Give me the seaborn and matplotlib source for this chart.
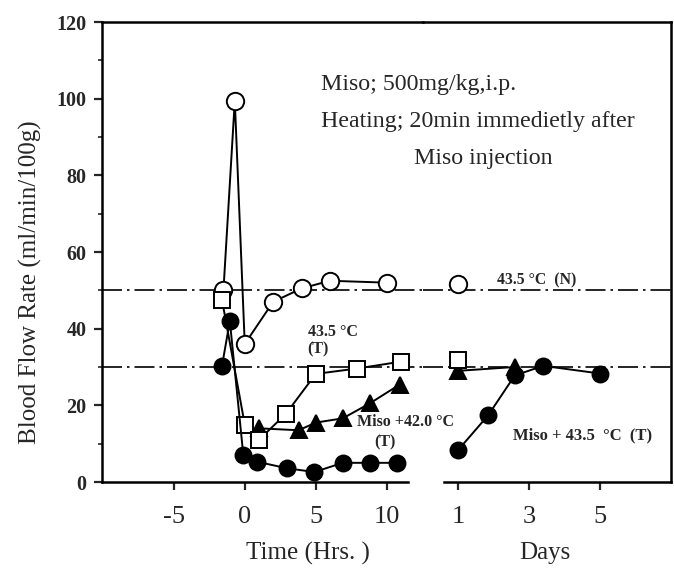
import matplotlib
matplotlib.use("Agg")
import matplotlib.pyplot as plt
from matplotlib.ticker import MultipleLocator
import seaborn as sns

# --- data ---
# 43.5 C (N), open circles
n_hrs = [-1.5, -0.7, 0.0, 2.0, 4.0, 6.0, 10.0]
n_val = [50.0, 99.5, 36.0, 47.0, 50.5, 52.5, 52.0]
n_days = [1.0]
n_days_val = [51.7]

# 43.5 C (T), open squares
t_hrs = [-1.6, 0.0, 1.0, 2.9, 5.0, 7.9, 11.0]
t_val = [47.5, 15.0, 11.0, 17.8, 28.2, 29.6, 31.4]
t_days = [1.0]
t_days_val = [31.8]

# Miso + 42.0 C (T), filled triangles
m42_hrs = [1.0, 3.8, 5.0, 6.9, 8.8, 10.9]
m42_val = [14.0, 13.5, 15.5, 16.6, 20.5, 25.4]
m42_days = [1.0, 2.6]
m42_days_val = [29.0, 30.0]

# Miso + 43.5 C (T), filled circles
m43_hrs = [-1.6, -1.05, -0.1, 0.85, 2.95, 4.9, 6.9, 8.8, 10.75]
m43_val = [30.3, 42.0, 7.0, 5.3, 3.6, 2.6, 5.0, 5.0, 5.0]
m43_days = [1.0, 1.85, 2.6, 3.4, 5.0]
m43_days_val = [8.3, 17.4, 27.8, 30.3, 28.3]

ref_lines = [50, 30]
hr_ticks = [-5, 0, 5, 10]
day_ticks = [1, 3, 5]
y_ticks = [0, 20, 40, 60, 80, 100, 120]

sns.set_style("ticks")
plt.rcParams['font.family'] = ['Liberation Serif', 'DejaVu Serif']

fig = plt.figure(figsize=(6.74, 5.75), dpi=100)
W, H = 674.0, 575.0
x0, xm, x1 = 102, 423, 671
ybot, ytop = 482, 22
ax1 = fig.add_axes([x0 / W, 1 - ybot / H, (xm - x0) / W, (ybot - ytop) / H])
ax2 = fig.add_axes([xm / W, 1 - ybot / H, (x1 - xm) / W, (ybot - ytop) / H])
ax2.patch.set_visible(False)

lw = 1.4
def series(ax, x, y, marker, ms, filled, z):
    sns.lineplot(x=x, y=y, ax=ax, color="black", lw=lw, marker=marker, markersize=ms,
                 markerfacecolor="black" if filled else "white", markeredgecolor="black",
                 markeredgewidth=1.4, estimator=None, sort=False, zorder=z, legend=False)

for ax in (ax1, ax2):
    for yl in ref_lines:
        ax.axhline(yl, color="black", lw=1.2, ls=(0, (12, 3, 1.5, 3)), zorder=1)

series(ax1, m42_hrs, m42_val, "^", 12, True, 3)
series(ax1, n_hrs, n_val, "o", 12.5, False, 4)
series(ax1, t_hrs, t_val, "s", 11.5, False, 5)
series(ax1, m43_hrs, m43_val, "o", 11.5, True, 6)

series(ax2, m42_days, m42_days_val, "^", 12, True, 3)
series(ax2, n_days, n_days_val, "o", 12.5, False, 4)
series(ax2, t_days, t_days_val, "s", 11.5, False, 5)
series(ax2, m43_days, m43_days_val, "o", 11.5, True, 6)

ax1.set_xlim(-10.05, 12.55)
ax2.set_xlim(0.014, 7.0)
for ax in (ax1, ax2):
    ax.set_ylim(0, 120)
    ax.set_xlabel("")
    ax.set_ylabel("")
    for s in ax.spines.values():
        s.set_linewidth(1.8)
        s.set_color("black")
        s.set_capstyle("projecting")

ax1.spines["right"].set_visible(False)
ax2.spines["left"].set_visible(False)
ax1.spines["bottom"].set_bounds(-10.05, 11.5)
ax2.spines["bottom"].set_bounds(0.6, 7.0)

ax1.set_xticks(hr_ticks)
ax1.set_xticklabels([str(t) for t in hr_ticks], fontsize=19)
ax2.set_xticks(day_ticks)
ax2.set_xticklabels([str(t) for t in day_ticks], fontsize=19)
ax1.set_yticks(y_ticks)
ax1.set_yticklabels([str(t) for t in y_ticks], fontsize=14.5, fontweight="bold")
ax1.yaxis.set_minor_locator(MultipleLocator(10))
ax2.set_yticks([])
for ax in (ax1, ax2):
    ax.tick_params(axis="x", length=6, width=1.6, pad=11, direction="out")
ax1.tick_params(axis="y", which="major", length=6, width=1.6, pad=5, direction="out")
ax1.tick_params(axis="y", which="minor", length=3, width=1.2, direction="out", left=True)

# annotations
ax1.text(5.4, 102.3, "Miso; 500mg/kg,i.p.", fontsize=17.2, va="baseline", ha="left", clip_on=False)
ax1.text(5.4, 92.7, "Heating; 20min immedietly after", fontsize=17.2, va="baseline", ha="left", clip_on=False)
ax1.text(16.8, 82.9, "Miso injection", fontsize=17.2, va="baseline", ha="center", clip_on=False)
ax2.text(2.1, 52.5, "43.5 °C  (N)", fontsize=11.3, fontweight="bold", va="center", ha="left")
ax1.text(4.43, 39.2, "43.5 °C", fontsize=11.5, fontweight="bold", va="center", ha="left")
ax1.text(4.43, 34.5, "(T)", fontsize=11.5, fontweight="bold", va="center", ha="left")
ax1.text(7.87, 15.6, "Miso +42.0 °C", fontsize=11.5, fontweight="bold", va="center", ha="left",
         clip_on=False, zorder=10)
ax1.text(9.84, 10.4, "(T)", fontsize=11.5, fontweight="bold", va="center", ha="center")
ax2.text(2.55, 12.2, "Miso + 43.5  °C  (T)", fontsize=12, fontweight="bold", va="center", ha="left")

fig.text(30 / W, 1 - 282 / H, "Blood Flow Rate (ml/min/100g)", rotation=90,
         fontsize=18, va="center", ha="center")
fig.text(308 / W, 1 - 553 / H, "Time (Hrs. )", fontsize=18, va="center", ha="center")
fig.text(545 / W, 1 - 553 / H, "Days", fontsize=18, va="center", ha="center")

fig.savefig("out.png", dpi=100)
